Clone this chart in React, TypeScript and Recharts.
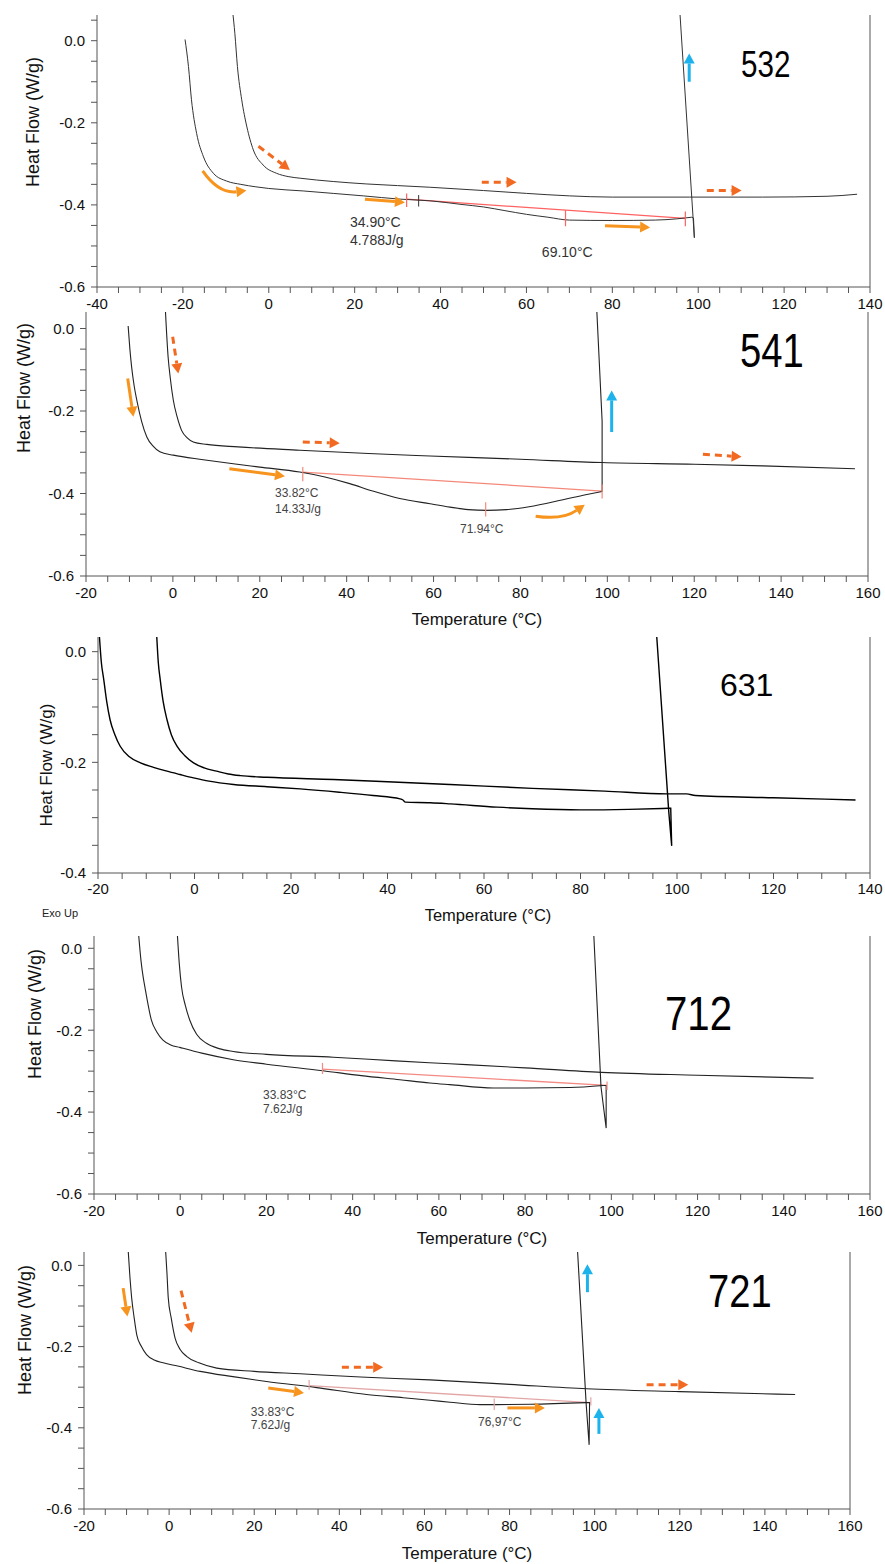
import React from 'react';
import { LineChart, Line, XAxis, YAxis, ReferenceLine, ReferenceDot } from 'recharts';

const FONT = '"Liberation Sans", Arial, Helvetica, sans-serif';

type Pt = { t: number; v: number };
type Mark = { t: number; from: number; to: number };
type Note = { t: number; v: number; text: string; anchor?: 'start' | 'middle' };
type Arrow = { from: [number, number]; to: [number, number]; kind: 'solid' | 'dashed' | 'blue'; bend?: number };

const pts = (rows: number[][]): Pt[] => rows.map(([t, v]) => ({ t, v }));

// ---------- 532 ----------
const heat1_532 = pts([
  [-19.5, 0.003], [-18.7, -0.063], [-18.0, -0.144], [-16.8, -0.226], [-15.2, -0.283], [-12.9, -0.323],
  [-9.8, -0.342], [-6.5, -0.35], [-3, -0.356], [0, -0.36], [8, -0.366], [15, -0.372], [22, -0.378],
  [30.6, -0.386], [37.5, -0.39], [45, -0.399], [50, -0.405], [55, -0.414], [60, -0.423], [65, -0.43],
  [70, -0.437], [80, -0.438], [90, -0.437], [95, -0.434], [98.5, -0.43],
]);
const tail_532 = pts([[98.5, -0.43], [98.9, -0.432], [99.1, -0.48], [95.6, 0.09]]);
const heat2_532 = pts([
  [-8.4, 0.07], [-7.9, 0.018], [-7.3, -0.063], [-6.3, -0.144], [-5.1, -0.21], [-3.6, -0.266], [-1.3, -0.303],
  [1.8, -0.323], [4.5, -0.331], [7.3, -0.335], [15, -0.343], [22.8, -0.349], [30, -0.353], [37.5, -0.357],
  [50, -0.365], [60, -0.372], [70, -0.378], [80, -0.381], [98, -0.381], [115, -0.381], [130, -0.379], [137, -0.374],
]);
const base_532 = pts([[32.1, -0.386], [97.0, -0.433]]);
const red_532: Mark[] = [
  { t: 32.1, from: -0.372, to: -0.405 },
  { t: 69.1, from: -0.413, to: -0.452 },
  { t: 97.0, from: -0.416, to: -0.452 },
];
const black_532: Mark[] = [{ t: 34.9, from: -0.376, to: -0.404 }];
const notes_532: Note[] = [
  { t: 18.9, v: -0.443, text: '34.90°C' },
  { t: 18.9, v: -0.485, text: '4.788J/g' },
  { t: 69.5, v: -0.516, text: '69.10°C', anchor: 'middle' },
];
const arrows_532: Arrow[] = [
  { from: [-15.4, -0.317], to: [-5.2, -0.365], kind: 'solid', bend: 0.3 },
  { from: [-2.4, -0.257], to: [4.9, -0.315], kind: 'dashed' },
  { from: [22.4, -0.386], to: [31.7, -0.394], kind: 'solid' },
  { from: [49.6, -0.345], to: [57.7, -0.345], kind: 'dashed' },
  { from: [78.3, -0.451], to: [88.8, -0.455], kind: 'solid' },
  { from: [102.0, -0.365], to: [110.1, -0.365], kind: 'dashed' },
  { from: [97.9, -0.1], to: [97.9, -0.031], kind: 'blue' },
];

// ---------- 541 ----------
const heat1_541 = pts([
  [-10.3, 0.006], [-9.9, -0.05], [-9.5, -0.093], [-8.9, -0.14], [-8.3, -0.174], [-7.2, -0.225], [-6.0, -0.263],
  [-4.5, -0.286], [-3.0, -0.299], [0.1, -0.307], [7, -0.318], [13.9, -0.328], [20, -0.336], [29.2, -0.348],
  [35, -0.36], [40.7, -0.376], [46, -0.394], [52.2, -0.412], [59.2, -0.425], [63.8, -0.433], [68, -0.439],
  [72.2, -0.441], [76.8, -0.439], [82, -0.432], [89.8, -0.415], [95, -0.403], [98.8, -0.395],
]);
const tail_541 = pts([[98.8, -0.395], [98.8, -0.225], [97.5, 0.06]]);
const heat2_541 = pts([
  [-1.8, 0.06], [-1.1, -0.069], [-0.6, -0.12], [0.1, -0.174], [1.0, -0.215], [2.0, -0.247], [3.3, -0.265],
  [4.7, -0.275], [7.8, -0.281], [15, -0.287], [29.2, -0.295], [45, -0.303], [59.2, -0.309], [80, -0.317],
  [98.8, -0.325], [120, -0.329], [135.8, -0.333], [157, -0.34],
]);
const base_541 = pts([[29.9, -0.348], [98.8, -0.394]]);
const red_541: Mark[] = [
  { t: 29.9, from: -0.336, to: -0.37 },
  { t: 72.0, from: -0.421, to: -0.456 },
  { t: 98.8, from: -0.378, to: -0.412 },
];
const notes_541: Note[] = [
  { t: 23.5, v: -0.398, text: '33.82°C' },
  { t: 23.5, v: -0.436, text: '14.33J/g' },
  { t: 71.1, v: -0.486, text: '71.94°C', anchor: 'middle' },
];
const arrows_541: Arrow[] = [
  { from: [-10.4, -0.121], to: [-9.1, -0.214], kind: 'solid' },
  { from: [-0.05, -0.02], to: [1.24, -0.109], kind: 'dashed' },
  { from: [13.0, -0.34], to: [25.8, -0.358], kind: 'solid' },
  { from: [29.9, -0.275], to: [38.4, -0.278], kind: 'dashed' },
  { from: [83.5, -0.455], to: [94.8, -0.427], kind: 'solid', bend: 0.2 },
  { from: [122.0, -0.305], to: [130.9, -0.311], kind: 'dashed' },
  { from: [101.0, -0.251], to: [101.0, -0.15], kind: 'blue' },
];

// ---------- 631 ----------
const heat1_631 = pts([
  [-19.8, 0.04], [-19.3, -0.02], [-18.8, -0.051], [-18.2, -0.09], [-17.5, -0.123], [-16.5, -0.15], [-15.4, -0.171],
  [-13.5, -0.19], [-11.2, -0.201], [-8.5, -0.209], [-5.7, -0.216], [-3, -0.222], [-0.2, -0.228], [3, -0.234],
  [8.1, -0.24], [15, -0.244], [21.9, -0.248], [30, -0.254], [37, -0.26], [42.6, -0.266], [43.2, -0.268],
  [43.7, -0.272], [48.9, -0.273], [53, -0.275], [62.7, -0.281], [70, -0.284], [80, -0.286], [90, -0.285], [98.2, -0.283],
]);
const tail_631 = pts([[98.2, -0.283], [98.7, -0.283], [98.9, -0.351], [98.3, -0.29], [95.7, 0.04]]);
const heat2_631 = pts([
  [-7.9, 0.04], [-7.5, -0.02], [-7.1, -0.051], [-6.5, -0.09], [-5.7, -0.123], [-4.8, -0.15], [-3.6, -0.171],
  [-2, -0.188], [-0.2, -0.201], [2, -0.21], [4.6, -0.216], [7, -0.221], [9.5, -0.224], [15, -0.227],
  [28.8, -0.231], [40, -0.235], [53, -0.24], [70, -0.247], [85, -0.252], [97.9, -0.257], [102, -0.257],
  [103.8, -0.26], [120, -0.264], [137, -0.268],
]);

// ---------- 712 ----------
const heat1_712 = pts([
  [-9.7, 0.04], [-9.1, -0.03], [-8.6, -0.07], [-8.2, -0.094], [-7.5, -0.135], [-6.7, -0.175], [-5.4, -0.205],
  [-4.0, -0.224], [-2.2, -0.236], [-0.1, -0.242], [5, -0.256], [12.3, -0.272], [20, -0.283], [33.1, -0.299],
  [42, -0.311], [50.9, -0.321], [57.9, -0.329], [62.5, -0.333], [72.6, -0.341], [80, -0.341], [90.4, -0.34], [98.1, -0.335],
]);
const tail_712 = pts([[98.1, -0.335], [98.8, -0.335], [98.8, -0.439], [97.6, -0.338], [95.9, 0.04]]);
const heat2_712 = pts([
  [-0.7, 0.04], [-0.2, -0.04], [0.3, -0.094], [1.2, -0.14], [2.2, -0.175], [3.8, -0.21], [6.1, -0.232],
  [9, -0.245], [12.3, -0.252], [20, -0.259], [35.5, -0.266], [50, -0.275], [62.5, -0.282], [80, -0.292],
  [97.7, -0.303], [120, -0.31], [146.9, -0.317],
]);
const base_712 = pts([[33.0, -0.295], [99.0, -0.335]]);
const red_712: Mark[] = [
  { t: 33.0, from: -0.28, to: -0.307 },
  { t: 99.0, from: -0.325, to: -0.346 },
];
const notes_712: Note[] = [
  { t: 19.2, v: -0.358, text: '33.83°C' },
  { t: 19.2, v: -0.392, text: '7.62J/g' },
];

// ---------- 721 ----------
const heat1_721 = pts([
  [-9.7, 0.05], [-9.2, -0.03], [-8.8, -0.08], [-8.2, -0.13], [-7.6, -0.171], [-6.5, -0.2], [-5.3, -0.22],
  [-3.5, -0.233], [-1.4, -0.24], [2, -0.248], [7.3, -0.261], [15, -0.274], [22.9, -0.286], [34.7, -0.301],
  [46.4, -0.318], [55, -0.326], [61.3, -0.332], [66, -0.337], [73.1, -0.343], [85, -0.342], [98.1, -0.338],
]);
const tail_721 = pts([[98.1, -0.338], [98.8, -0.338], [98.7, -0.442], [98.0, -0.341], [95.9, 0.05]]);
const heat2_721 = pts([
  [-0.9, 0.05], [-0.5, -0.02], [-0.2, -0.08], [0.5, -0.13], [1.4, -0.179], [2.6, -0.207], [4.1, -0.224],
  [7, -0.24], [11.2, -0.253], [20, -0.261], [30.8, -0.267], [45, -0.275], [61.3, -0.282], [80, -0.293],
  [98.1, -0.304], [120, -0.311], [147.1, -0.318],
]);
const base_721 = pts([[32.9, -0.296], [99.1, -0.338]]);
const red_721: Mark[] = [
  { t: 32.9, from: -0.282, to: -0.306 },
  { t: 76.4, from: -0.328, to: -0.356 },
  { t: 99.1, from: -0.325, to: -0.345 },
];
const notes_721: Note[] = [
  { t: 19.2, v: -0.36, text: '33.83°C' },
  { t: 19.2, v: -0.392, text: '7.62J/g' },
  { t: 77.7, v: -0.384, text: '76,97°C', anchor: 'middle' },
];
const arrows_721: Arrow[] = [
  { from: [-10.8, -0.056], to: [-9.8, -0.126], kind: 'solid' },
  { from: [2.8, -0.062], to: [5.3, -0.166], kind: 'dashed' },
  { from: [23.3, -0.302], to: [31.7, -0.314], kind: 'solid' },
  { from: [40.6, -0.251], to: [50.3, -0.251], kind: 'dashed' },
  { from: [79.5, -0.351], to: [88.3, -0.351], kind: 'solid' },
  { from: [112.2, -0.294], to: [122.0, -0.294], kind: 'dashed' },
  { from: [98.3, -0.066], to: [98.3, 0.003], kind: 'blue' },
  { from: [101.0, -0.415], to: [101.0, -0.351], kind: 'blue' },
];

// tick positions (every 5 °C / 0.05 W/g, labelled every 20 °C / 0.2 W/g)
const steps = (a: number, b: number, s: number) => {
  const n = Math.round((b - a) / s);
  return Array.from({ length: n + 1 }, (_, i) => Math.round((a + i * s) * 1000) / 1000);
};
const xTicksWide = steps(-40, 140, 5);
const xTicks160 = steps(-20, 160, 5);
const xTicks140 = steps(-20, 140, 5);
const yTicks532 = steps(-0.6, 0.05, 0.05);
const yTicks06 = steps(-0.6, 0, 0.05);
const yTicks04 = steps(-0.4, 0, 0.05);

const xLabel = (t: number) => (Math.round(t) % 20 === 0 ? String(t) : '');
const yLabel = (v: number) => (Math.round(v * 100) % 20 === 0 ? v.toFixed(1) : '');

const ARROW_COLORS = { solid: '#f7941d', dashed: '#f26a21', blue: '#1cb3ec' };

function arrowShape(a: Arrow) {
  return (p: any) => {
    const { x1, y1, x2, y2 } = p;
    if ([x1, y1, x2, y2].some((n) => typeof n !== 'number' || isNaN(n))) return <g />;
    const color = ARROW_COLORS[a.kind];
    const dx = x2 - x1;
    const dy = y2 - y1;
    const len = Math.hypot(dx, dy) || 1;
    const ux = dx / len;
    const uy = dy / len;
    const bend = a.bend ?? 0;
    const cx = (x1 + x2) / 2 - uy * bend * len;
    const cy = (y1 + y2) / 2 + ux * bend * len;
    let tx = x2 - (bend ? cx : x1);
    let ty = y2 - (bend ? cy : y1);
    const tl = Math.hypot(tx, ty) || 1;
    tx /= tl;
    ty /= tl;
    const head = 10;
    const half = 5.5;
    const bx = x2 - tx * head;
    const by = y2 - ty * head;
    const d = bend ? `M${x1},${y1} Q${cx},${cy} ${bx},${by}` : `M${x1},${y1} L${bx},${by}`;
    return (
      <g>
        <path d={d} stroke={color} strokeWidth={3} fill="none" strokeDasharray={a.kind === 'dashed' ? '7 5' : undefined} />
        <polygon points={`${x2},${y2} ${bx - ty * half},${by + tx * half} ${bx + ty * half},${by - tx * half}`} fill={color} />
      </g>
    );
  };
}

type PanelCfg = {
  box: { left: number; right: number; top: number; bottom: number };
  xDomain: [number, number];
  yDomain: [number, number];
  xTicks: number[];
  yTicks: number[];
  curves: Pt[][];
  tail: Pt[];
  stroke: string;
  strokeWidth: number;
  base?: Pt[];
  baseColor?: string;
  red?: Mark[];
  black?: Mark[];
  notes?: Note[];
  noteSize?: number;
  noteColor?: string;
  arrows?: Arrow[];
  tickMargin?: number;
};

const PANELS: PanelCfg[] = [
  {
    box: { left: 97, right: 870, top: 15, bottom: 287 },
    xDomain: [-40, 140], yDomain: [-0.6, 0.0626], xTicks: xTicksWide, yTicks: yTicks532,
    curves: [heat1_532, heat2_532], tail: tail_532, stroke: '#333', strokeWidth: 1,
    base: base_532, baseColor: '#ff6262', red: red_532, black: black_532,
    notes: notes_532, noteSize: 14, noteColor: '#333', arrows: arrows_532,
  },
  {
    box: { left: 86, right: 868, top: 312, bottom: 576 },
    xDomain: [-20, 160], yDomain: [-0.6, 0.04], xTicks: xTicks160, yTicks: yTicks06,
    curves: [heat1_541, heat2_541], tail: tail_541, stroke: '#222', strokeWidth: 1.1,
    base: base_541, baseColor: '#f4897a', red: red_541,
    notes: notes_541, noteSize: 12, noteColor: '#444', arrows: arrows_541,
  },
  {
    box: { left: 98, right: 870, top: 637, bottom: 873 },
    xDomain: [-20, 140], yDomain: [-0.4, 0.0265], xTicks: xTicks140, yTicks: yTicks04,
    curves: [heat1_631, heat2_631], tail: tail_631, stroke: '#000', strokeWidth: 1.4, tickMargin: 4,
  },
  {
    box: { left: 94, right: 870, top: 936, bottom: 1194 },
    xDomain: [-20, 160], yDomain: [-0.6, 0.03], xTicks: xTicks160, yTicks: yTicks06,
    curves: [heat1_712, heat2_712], tail: tail_712, stroke: '#222', strokeWidth: 1.1,
    base: base_712, baseColor: '#f38a84', red: red_712,
    notes: notes_712, noteSize: 12, noteColor: '#444',
  },
  {
    box: { left: 84, right: 850, top: 1252, bottom: 1509 },
    xDomain: [-20, 160], yDomain: [-0.6, 0.033], xTicks: xTicks160, yTicks: yTicks06,
    curves: [heat1_721, heat2_721], tail: tail_721, stroke: '#222', strokeWidth: 1.1,
    base: base_721, baseColor: '#e3a6a6', red: red_721,
    notes: notes_721, noteSize: 12, noteColor: '#444', arrows: arrows_721,
  },
];

const Y_AXIS_W = 60;

function Panel({ cfg }: { cfg: PanelCfg }) {
  const { left, right, top, bottom } = cfg.box;
  const mTop = 6;
  const xAxisH = 30;
  const mBottom = 6;
  const height = bottom - top + mTop + xAxisH + mBottom;
  const tickStyle = { fill: '#111', fontSize: 15, fontFamily: FONT };
  return (
    <div style={{ position: 'absolute', left: 0, top: top - mTop, width: 885, height }}>
      <LineChart
        width={885}
        height={height}
        margin={{ top: mTop, right: 885 - right, bottom: mBottom, left: left - Y_AXIS_W }}
      >
        <XAxis
          type="number"
          dataKey="t"
          domain={cfg.xDomain}
          allowDataOverflow
          ticks={cfg.xTicks}
          interval={0}
          tickFormatter={xLabel}
          stroke="#555"
          tickSize={6}
          tickMargin={cfg.tickMargin ?? 5}
          tick={tickStyle}
          height={xAxisH}
        />
        <YAxis
          type="number"
          dataKey="v"
          domain={cfg.yDomain}
          allowDataOverflow
          ticks={cfg.yTicks}
          interval={0}
          tickFormatter={yLabel}
          stroke="#555"
          tickSize={6}
          tickMargin={6}
          tick={tickStyle}
          width={Y_AXIS_W}
        />
        <ReferenceLine x={cfg.xDomain[1]} stroke="#555" />
        {cfg.base && (
          <Line data={cfg.base} dataKey="v" type="linear" stroke={cfg.baseColor} strokeWidth={1.3} dot={false} isAnimationActive={false} />
        )}
        {cfg.curves.map((c, i) => (
          <Line key={`c${i}`} data={c} dataKey="v" type="monotone" stroke={cfg.stroke} strokeWidth={cfg.strokeWidth} dot={false} isAnimationActive={false} />
        ))}
        <Line data={cfg.tail} dataKey="v" type="linear" stroke={cfg.stroke} strokeWidth={cfg.strokeWidth} dot={false} isAnimationActive={false} />
        {(cfg.red ?? []).map((m, i) => (
          <ReferenceLine key={`r${i}`} segment={[{ x: m.t, y: m.from }, { x: m.t, y: m.to }]} stroke={cfg.baseColor} strokeWidth={1.2} />
        ))}
        {(cfg.black ?? []).map((m, i) => (
          <ReferenceLine key={`b${i}`} segment={[{ x: m.t, y: m.from }, { x: m.t, y: m.to }]} stroke="#333" strokeWidth={1} />
        ))}
        {(cfg.notes ?? []).map((n, i) => (
          <ReferenceDot
            key={`n${i}`}
            x={n.t}
            y={n.v}
            r={0}
            shape={(p: any) => (
              <text
                x={p.cx}
                y={p.cy}
                dy="0.35em"
                textAnchor={n.anchor ?? 'start'}
                fontFamily={FONT}
                fontSize={cfg.noteSize}
                fill={cfg.noteColor}
              >
                {n.text}
              </text>
            )}
          />
        ))}
        {(cfg.arrows ?? []).map((a, i) => (
          <ReferenceLine
            key={`a${i}`}
            segment={[{ x: a.from[0], y: a.from[1] }, { x: a.to[0], y: a.to[1] }]}
            stroke={ARROW_COLORS[a.kind]}
            shape={arrowShape(a)}
          />
        ))}
      </LineChart>
    </div>
  );
}

const TITLES = [
  { text: '532', x: 741, y: 77, size: 37, sx: 0.8 },
  { text: '541', x: 740, y: 367, size: 49, sx: 0.78 },
  { text: '631', x: 720, y: 696, size: 32, sx: 1 },
  { text: '712', x: 665, y: 1030, size: 49, sx: 0.82 },
  { text: '721', x: 708, y: 1307, size: 46.5, sx: 0.82 },
];
const Y_TITLES = [
  { x: 33, y: 122, size: 18 },
  { x: 23.5, y: 388, size: 18 },
  { x: 46, y: 765, size: 17 },
  { x: 35, y: 1014, size: 18 },
  { x: 25, y: 1330, size: 18 },
];
const X_TITLES = [
  { x: 477, y: 619, size: 17 },
  { x: 488, y: 915, size: 16.5 },
  { x: 482, y: 1238, size: 17 },
  { x: 467, y: 1553, size: 17 },
];

export default function App() {
  return (
    <div style={{ position: 'absolute', left: 0, top: 0, width: 885, height: 1564, background: '#fff', overflow: 'hidden' }}>
      {PANELS.map((p, i) => (
        <Panel key={i} cfg={p} />
      ))}
      <svg width={885} height={1564} style={{ position: 'absolute', left: 0, top: 0, pointerEvents: 'none' }}>
        {TITLES.map((t) => (
          <text key={t.text} transform={`translate(${t.x},${t.y}) scale(${t.sx},1)`} fontFamily={FONT} fontSize={t.size} fill="#000">
            {t.text}
          </text>
        ))}
        {Y_TITLES.map((t, i) => (
          <text key={`y${i}`} transform={`translate(${t.x},${t.y}) rotate(-90)`} textAnchor="middle" dy="0.35em" fontFamily={FONT} fontSize={t.size} fill="#111">
            Heat Flow (W/g)
          </text>
        ))}
        {X_TITLES.map((t, i) => (
          <text key={`x${i}`} x={t.x} y={t.y} textAnchor="middle" dy="0.35em" fontFamily={FONT} fontSize={t.size} fill="#111">
            Temperature (°C)
          </text>
        ))}
        <text x={42} y={913} dy="0.35em" fontFamily={FONT} fontSize={11} fill="#222">
          Exo Up
        </text>
      </svg>
    </div>
  );
}
